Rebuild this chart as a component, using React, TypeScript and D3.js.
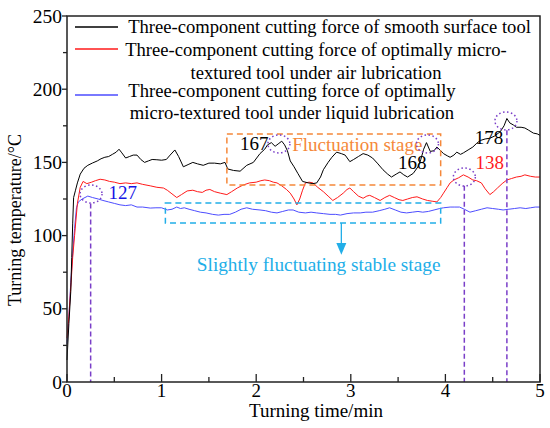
import React from "react";
import * as d3 from "d3";

const W = 550, H = 428;
const M = { left: 67, top: 16, right: 540, bottom: 382 };

const xTicks = [0, 1, 2, 3, 4, 5];
const xMinor = [0.5, 1.5, 2.5, 3.5, 4.5];
const yTicks = [0, 50, 100, 150, 200, 250];
const yMinor = [25, 75, 125, 175, 225];

const smoothT = [0,0.02,0.04,0.05,0.06,0.07,0.09,0.11,0.14,0.18,0.22,0.27,0.32,0.36,0.40,0.44,0.48,0.52,0.55,0.58,0.62,0.66,0.70,0.74,0.78,0.82,0.86,0.90,0.95,1.00,1.05,1.09,1.14,1.18,1.23,1.28,1.33,1.38,1.44,1.50,1.56,1.62,1.67,1.70,1.76,1.83,1.90,1.97,2.04,2.09,2.12,2.16,2.20,2.24,2.27,2.30,2.33,2.36,2.40,2.44,2.49,2.55,2.60,2.64,2.68,2.71,2.76,2.80,2.85,2.90,2.94,2.99,3.03,3.08,3.13,3.18,3.23,3.28,3.34,3.39,3.43,3.48,3.52,3.56,3.60,3.66,3.71,3.74,3.77,3.80,3.84,3.88,3.91,3.95,3.98,4.02,4.05,4.09,4.12,4.16,4.19,4.24,4.29,4.33,4.37,4.42,4.47,4.52,4.58,4.62,4.65,4.68,4.72,4.75,4.80,4.84,4.88,4.93,4.97,5.00];
const smoothV = [15,40,62,85,108,126,131,136,142,146,148,149.6,151,152.5,153.5,154,155.5,157,159,156.5,153,154,155,155,152,150,151,152,151.8,151.5,152,155,158.5,154,147,148.5,150,149,148,149.5,149.5,149,150,145.5,144.5,144,148,150,156,159,162,163.5,161,163,164.5,162,158,151,147,142.5,137,136,135.5,136,140,145,150,153.5,157,156,155,150.5,152,154,156,155,153,149.5,145,142,140,142,143.5,141.5,140,142.5,147,152,159,163.5,157.5,158,160.5,158,156,154.5,153.5,155,157,155.5,156.5,158.5,160.5,163,165,166,166.5,168,171,175,180,177,175.5,174,174,173.5,172,170,169.5,168.5];

const airT = [0,0.02,0.04,0.06,0.08,0.11,0.14,0.17,0.21,0.26,0.30,0.35,0.40,0.45,0.50,0.56,0.62,0.68,0.74,0.80,0.88,0.95,1.02,1.06,1.10,1.16,1.21,1.27,1.33,1.38,1.43,1.47,1.51,1.56,1.62,1.69,1.74,1.80,1.86,1.93,2.00,2.05,2.09,2.14,2.18,2.22,2.27,2.32,2.36,2.40,2.43,2.46,2.49,2.52,2.56,2.60,2.65,2.71,2.76,2.81,2.86,2.92,2.96,2.99,3.03,3.08,3.13,3.17,3.20,3.25,3.31,3.36,3.41,3.46,3.51,3.55,3.60,3.65,3.70,3.76,3.81,3.86,3.91,3.95,3.98,4.02,4.05,4.09,4.14,4.19,4.24,4.29,4.33,4.38,4.42,4.47,4.51,4.55,4.60,4.65,4.70,4.75,4.80,4.84,4.90,4.95,5.00];
const airV = [30,45,65,85,100,122,133,137,135.5,136.5,137.5,138.5,138,137,136.5,135.5,136,135.5,136,135,134,133,132.5,131,129,126,128,130.5,131,130,129.5,131,131.5,130,129,128,130,132.5,134.5,136,136.5,137.5,138,137.5,136.5,136,134,131.5,129,125,121,125,131,136,136.5,136,133,130,127,124,126,129,131.5,132.5,130,127,125.5,127,127.5,126,124,126,127.5,126,124.5,124,125,126,126.5,125,124,123.5,123,126,129,133,136,138,139.5,141.5,140,138,137.5,136,132,128,130,132.5,135.5,138,139,140,140.5,141.5,140.5,140,140];

const liquidT = [0,0.02,0.04,0.06,0.08,0.10,0.12,0.16,0.22,0.27,0.33,0.38,0.44,0.50,0.56,0.62,0.68,0.74,0.80,0.88,0.94,1.00,1.06,1.11,1.16,1.20,1.24,1.29,1.35,1.41,1.47,1.54,1.60,1.66,1.72,1.78,1.84,1.90,1.96,2.04,2.10,2.16,2.22,2.28,2.34,2.39,2.45,2.52,2.58,2.64,2.71,2.78,2.84,2.89,2.96,3.03,3.10,3.16,3.23,3.30,3.36,3.41,3.47,3.53,3.59,3.65,3.71,3.76,3.82,3.88,3.94,3.98,4.05,4.10,4.15,4.20,4.26,4.32,4.38,4.44,4.50,4.56,4.61,4.67,4.73,4.79,4.85,4.90,4.95,5.00];
const liquidV = [26,45,68,88,105,119,123,125,127,126,125,124,123,122,121,120.5,121,119.5,119.5,118.8,119,119,117.5,118,119.5,118.5,119,118,117,116,115.5,114.5,114,114.5,114.5,116,118,119,118,117.5,117,116,115.5,116.5,117.5,117.5,116,115.5,116,115.5,115,114.5,114.5,114,115,115.5,115.5,116,116,117,118,119,117.5,116,115.5,116,116.5,116,116.5,117.5,118.5,119,119.5,119.5,119.5,118,116,117,118,119,118.5,118,117.5,118,118.5,119,118.5,119,119.5,119.5];

const legendLines = [
  ["Three-component cutting force of smooth surface tool"],
  ["Three-component cutting force of optimally micro-", "textured tool under air lubrication"],
  ["Three-component cutting force of optimally", "micro-textured tool under liquid lubrication"],
];
const seriesColors = ["#000000", "#ff1a1a", "#4d4dff"];

const peakLabels = [
  { t: 1.98, v: 162.6, text: "167", color: "#000000" },
  { t: 3.65, v: 149.6, text: "168", color: "#000000" },
  { t: 4.46, v: 166.7, text: "178", color: "#000000" },
  { t: 4.47, v: 149.6, text: "138", color: "#ff1a1a" },
  { t: 0.59, v: 129, text: "127", color: "#1414e6" },
];
const peakCircles = [
  { t: 0.254, v: 128.4 },
  { t: 2.24, v: 162.6 },
  { t: 3.81, v: 162.6 },
  { t: 4.2, v: 140 },
  { t: 4.64, v: 178.3 },
];
const peakDrops = [
  { t: 0.25, v: 122 },
  { t: 4.2, v: 134 },
  { t: 4.65, v: 172 },
];

const FONT = "Liberation Serif, Times New Roman, Times, serif";

export default function App() {
  const x = d3.scaleLinear().domain([0, 5]).range([M.left, M.right]);
  const y = d3.scaleLinear().domain([0, 250]).range([M.bottom, M.top]);
  const mk = (ts: number[], vs: number[]) =>
    d3.line<number>().x((_, i) => x(ts[i])).y((d) => y(d)).curve(d3.curveLinear)(vs) || "";
  const paths = [mk(smoothT, smoothV), mk(airT, airV), mk(liquidT, liquidV)];

  const purple = "#7a3fc8";
  const orange = "#f5883a";
  const cyan = "#22aee8";

  const legendY = [27, 49, 95];
  const textBaselines = [[33], [56, 79], [97, 119]];
  const textCenters = [[329.5], [316, 316], [292, 292]];
  const ts = { fontFamily: FONT };

  return (
    <svg width={W} height={H} style={{ position: "absolute", left: 0, top: 0, background: "#fff", fontFamily: FONT }}>
      <rect x={0} y={0} width={W} height={H} fill="#fff" />
      <path d={paths[2]} fill="none" stroke={seriesColors[2]} strokeWidth={1} />
      <path d={paths[1]} fill="none" stroke={seriesColors[1]} strokeWidth={1} />
      <path d={paths[0]} fill="none" stroke={seriesColors[0]} strokeWidth={1} />

      <rect x={x(1.69)} y={y(169.4)} width={x(3.95) - x(1.69)} height={y(134.6) - y(169.4)} fill="none" stroke={orange} strokeWidth={1.5} strokeDasharray="6,4" />
      <text style={ts} x={x(2.38)} y={y(162) + 6} fontSize={19} fill={orange}>Fluctuation stage</text>
      <rect x={x(1.04)} y={y(122.3)} width={x(3.95) - x(1.04)} height={y(108.6) - y(122.3)} fill="none" stroke={cyan} strokeWidth={1.5} strokeDasharray="6,4" />
      <line x1={x(2.9)} x2={x(2.9)} y1={y(108.6)} y2={y(93)} stroke={cyan} strokeWidth={1.3} />
      <path d={`M${x(2.9) - 5},${y(95)} L${x(2.9) + 5},${y(95)} L${x(2.9)},${y(87)} Z`} fill={cyan} />
      <text style={ts} x={x(2.66)} y={y(80) + 6} fontSize={19.3} fill={cyan} textAnchor="middle">Slightly fluctuating stable stage</text>

      {peakCircles.map((c, i) => (
        <ellipse key={i} cx={x(c.t)} cy={y(c.v)} rx={11} ry={9} fill="none" stroke={purple} strokeWidth={1.5} strokeDasharray="1.5,2.5" />
      ))}
      {peakDrops.map((p, i) => (
        <line key={i} x1={x(p.t)} x2={x(p.t)} y1={y(p.v)} y2={y(0)} stroke={purple} strokeWidth={1.5} strokeDasharray="5,3" />
      ))}
      {peakLabels.map((p, i) => (
        <text style={ts} key={i} x={x(p.t)} y={y(p.v) + 6} fontSize={19} fill={p.color} textAnchor="middle">{p.text}</text>
      ))}

      {legendLines.map((lines, i) => (
        <g key={i}>
          <line x1={75} x2={118} y1={legendY[i]} y2={legendY[i]} stroke={seriesColors[i]} strokeWidth={1.3} />
          {lines.map((s, j) => (
            <text style={ts} key={j} x={textCenters[i][j]} y={textBaselines[i][j]} fontSize={18.6} textAnchor="middle" fill="#000">{s}</text>
          ))}
        </g>
      ))}

      <rect x={M.left} y={M.top} width={M.right - M.left} height={M.bottom - M.top} fill="none" stroke="#222" strokeWidth={1.5} />

      {xTicks.map((t) => (
        <g key={t}>
          <line x1={x(t)} x2={x(t)} y1={M.bottom} y2={M.bottom - 8} stroke="#222" strokeWidth={1.3} />
          <text style={ts} x={x(t)} y={397} fontSize={19} textAnchor="middle">{t}</text>
        </g>
      ))}
      {xMinor.map((t) => (
        <line key={t} x1={x(t)} x2={x(t)} y1={M.bottom} y2={M.bottom - 5} stroke="#222" strokeWidth={1.3} />
      ))}
      {yTicks.map((v) => (
        <g key={v}>
          <line x1={M.left - 5} x2={M.left} y1={y(v)} y2={y(v)} stroke="#222" strokeWidth={1.3} />
          <text style={ts} x={62} y={y(v) + 6.5} fontSize={19.5} textAnchor="end">{v}</text>
        </g>
      ))}
      {yMinor.map((v) => (
        <line key={v} x1={M.left - 4} x2={M.left} y1={y(v)} y2={y(v)} stroke="#222" strokeWidth={1.3} />
      ))}
      <text style={ts} x={316} y={417} fontSize={19} textAnchor="middle">Turning time/min</text>
      <text style={ts} transform={`translate(21,220) rotate(-90)`} fontSize={18} textAnchor="middle">Turning temperature/°C</text>
    </svg>
  );
}
